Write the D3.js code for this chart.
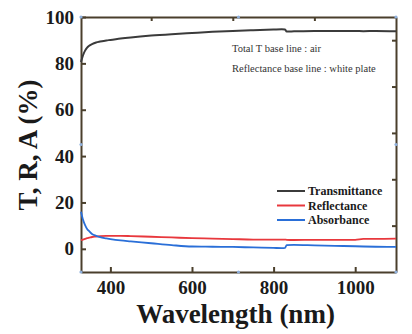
<!DOCTYPE html>
<html>
<head>
<meta charset="utf-8">
<script src="https://cdn.jsdelivr.net/npm/d3@7"></script>
<style>
  html, body { margin: 0; padding: 0; background: #fff; }
  svg { display: block; }
  svg text { font-family: "Liberation Serif", "Times New Roman", Times, serif; }
  .tick text { font-weight: bold; font-size: 19px; fill: #1a1a1a; }
  .frame-axis path, .frame-axis line { stroke: #4a3f2c; stroke-width: 2; }
  .legend text { font-weight: bold; font-size: 12px; fill: #1a1a1a; }
  .note { font-size: 10.5px; fill: #333; }
  .title { font-weight: bold; font-size: 27px; fill: #1a1a1a; }
</style>
</head>
<body>
<svg id="chart" width="412" height="334"></svg>
<script>
// wavelength grid (nm) and measured spectra (%)
const wavelength = [328, 333, 338, 343, 348, 355, 365, 375, 390, 400, 425, 450, 500, 550, 600, 650, 700, 750, 800, 820, 828, 832, 850, 900, 950, 1000, 1020, 1050, 1100];
const transmittance = [80.6, 83.5, 85.5, 86.8, 87.6, 88.3, 89.0, 89.4, 89.9, 90.1, 90.7, 91.2, 92.0, 92.6, 93.1, 93.6, 94.0, 94.3, 94.6, 94.7, 94.6, 93.7, 93.8, 94.0, 94.0, 94.0, 93.9, 94.0, 93.9];
const reflectance = [3.8, 4.0, 4.3, 4.6, 4.8, 5.1, 5.3, 5.5, 5.6, 5.6, 5.6, 5.5, 5.2, 4.9, 4.6, 4.4, 4.2, 4.0, 4.0, 4.0, 4.0, 3.9, 3.8, 3.9, 3.9, 3.9, 4.3, 4.3, 4.4];
const absorbance = [16.0, 12.5, 10.2, 8.6, 7.6, 6.4, 5.6, 5.0, 4.5, 4.2, 3.6, 3.2, 2.4, 1.6, 1.0, 0.9, 0.8, 0.6, 0.4, 0.3, 0.4, 1.6, 1.7, 1.5, 1.3, 1.1, 1.0, 0.9, 0.8];

const seriesNames = ["Transmittance", "Reflectance", "Absorbance"];
const seriesColors = ["#3b3b3b", "#e8383d", "#2a6fd8"];

const bottomTicks = [400, 600, 800, 1000];
const topTicks = [500, 700, 900];
const leftTicks = [0, 20, 40, 60, 80, 100];
const rightTicks = [10, 30, 50, 70, 90];

const notes = ["Total T base line : air", "Reflectance base line : white plate"];

const svg = d3.select("#chart");
const frame = {left: 81, right: 396, top: 17, bottom: 272};

const x = d3.scaleLinear().domain([328, 1100]).range([frame.left, frame.right]);
const y = d3.scaleLinear().domain([-10, 100]).range([frame.bottom, frame.top]);

// axes on all four sides, ticks pointing inward
const bottomAxis = svg.append("g").attr("class", "frame-axis")
  .attr("transform", "translate(0," + frame.bottom + ")")
  .call(d3.axisBottom(x).tickValues(bottomTicks).tickFormat(d3.format("d"))
    .tickSizeInner(-5).tickSizeOuter(0).tickPadding(8));
bottomAxis.selectAll("text").attr("dy", "0.75em");
svg.append("g").attr("class", "frame-axis")
  .attr("transform", "translate(0," + frame.top + ")")
  .call(d3.axisTop(x).tickValues(topTicks).tickSizeInner(-4).tickSizeOuter(0).tickFormat(""));
svg.append("g").attr("class", "frame-axis")
  .attr("transform", "translate(" + frame.left + ",0)")
  .call(d3.axisLeft(y).tickValues(leftTicks).tickSizeInner(-5).tickSizeOuter(0).tickPadding(7));
svg.append("g").attr("class", "frame-axis")
  .attr("transform", "translate(" + frame.right + ",0)")
  .call(d3.axisRight(y).tickValues(rightTicks).tickSizeInner(-4).tickSizeOuter(0).tickFormat(""));
svg.selectAll(".frame-axis").attr("font-family", null);

// spectra
const line = d3.line()
  .x(function(d, i) { return x(wavelength[i]); })
  .y(function(d) { return y(d); })
  .curve(d3.curveMonotoneX);

[transmittance, reflectance, absorbance].forEach(function(values, k) {
  svg.append("path")
    .datum(values)
    .attr("fill", "none")
    .attr("stroke", seriesColors[k])
    .attr("stroke-width", k === 0 ? 2 : 1.8)
    .attr("d", line);
});

// small handle dots at corners and mid-edges
const handles = [
  [frame.left, frame.top], [(frame.left + frame.right) / 2, frame.top], [frame.right, frame.top],
  [frame.left, (frame.top + frame.bottom) / 2], [frame.right, (frame.top + frame.bottom) / 2],
  [frame.left, frame.bottom], [(frame.left + frame.right) / 2, frame.bottom], [frame.right, frame.bottom]
];
svg.selectAll(".handle").data(handles).enter().append("circle")
  .attr("class", "handle")
  .attr("cx", function(d) { return d[0]; })
  .attr("cy", function(d) { return d[1]; })
  .attr("r", 1.6)
  .attr("fill", "#8fb0dc");

// legend
const legend = svg.append("g").attr("class", "legend").attr("transform", "translate(277,191)");
seriesNames.forEach(function(name, i) {
  const row = legend.append("g").attr("transform", "translate(0," + (i * 14.5) + ")");
  row.append("line")
    .attr("x1", 0).attr("x2", 28).attr("y1", 0).attr("y2", 0)
    .attr("stroke", seriesColors[i]).attr("stroke-width", 2);
  row.append("text")
    .attr("x", 31).attr("y", 0).attr("dy", "0.35em")
    .text(name);
});

// notes
svg.selectAll(".note").data(notes).enter().append("text")
  .attr("class", "note")
  .attr("x", 232)
  .attr("y", function(d, i) { return 48 + i * 20; })
  .attr("dy", "0.35em")
  .text(function(d) { return d; });

// axis titles
svg.append("text")
  .attr("class", "title")
  .attr("x", (frame.left + frame.right) / 2 - 3)
  .attr("y", 314)
  .attr("dy", "0.35em")
  .attr("text-anchor", "middle")
  .text("Wavelength (nm)");

svg.append("text")
  .attr("class", "title")
  .attr("transform", "translate(28,145) rotate(-90)")
  .attr("dy", "0.35em")
  .attr("text-anchor", "middle")
  .text("T, R, A (%)");
</script>
</body>
</html>
